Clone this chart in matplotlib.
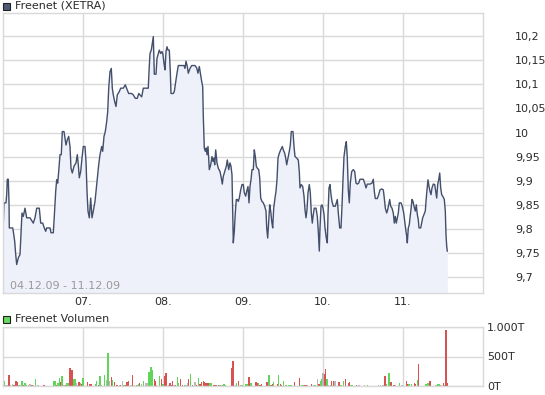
#!/usr/bin/env python3

import matplotlib
matplotlib.use('Agg')
import matplotlib.pyplot as plt
from matplotlib.patches import Rectangle

# Kurs (Intraday-Zeitindex, 80 Schritte je Handelstag)
price_t = [
    0, 0.5, 1, 3, 3.7, 4.3, 5.3, 6, 6.3, 9.7, 10.3, 11.7, 12.7, 13.7, 15.3, 17, 18, 19,
    20.3, 22, 23.7, 27, 30.3, 32, 33.7, 36.3, 37.7, 39.7, 41.3, 42.7, 43.7, 47, 48, 50.3,
    51.3, 52.7, 53.7, 54.7, 55.7, 57, 58.3, 59.3, 61, 62, 63, 64.3, 65.7, 67, 68, 69.3,
    71, 73, 74.3, 75.3, 76.3, 77.7, 79, 80.3, 82, 83, 84, 85, 86.3, 87.7, 89,
    90.3, 92, 93, 94.3, 95.7, 97, 98.7, 99.7, 101, 102.3, 103.7, 104.7, 105.7, 107, 108.3,
    109.3, 110.3, 111.7, 113, 114.3, 116.3, 117.7, 120.3, 122.3, 124.3, 125.7, 128.7, 130.3,
    132.3, 134.3, 135.7, 137, 138.7, 140.3, 145.3, 146, 147, 148.3, 149.3, 150.3, 151.3,
    153, 154, 155.3, 156.3, 157.7, 159, 160, 161, 162, 163, 164, 165, 166.3, 167.3, 168,
    170.3, 171.3, 172.3, 173.7, 175.3, 178.7,
    181, 182, 183, 184.3, 185.3, 187, 188.7, 192, 193.7, 195, 196.3, 197.7, 198.7, 199.7,
    200.3, 201.3, 202.3, 203.3, 204, 205, 206.3, 207.7, 209, 210, 211, 211.7, 212.7, 214,
    215.3, 217, 218.3, 219.3, 220.3, 221.7, 223.3, 224.3, 225.7, 227, 228, 229, 229.7,
    230.3, 231.3, 232.3, 233.3, 234.3, 235.3, 236.3, 237.7, 239, 240.3, 241.3, 242.7,
    243.7, 245, 246, 247, 248, 249, 250.3, 251.3, 252.3, 253.3, 254.3, 255.7, 256.7,
    257.7, 259, 260.3, 261.7, 263, 263.7, 264.7, 265.7, 266.7, 267.7, 268.7, 269.7,
    270.7, 272,
    273, 274, 275, 276.3, 277.7, 279.3, 280.3, 281.7, 283, 283.7, 285, 286.3, 287.3, 288.3,
    290, 291, 292, 293.7, 295.3, 296.3, 297, 298.3, 299.7, 301, 302, 303, 304, 305, 306.3,
    307.3, 308.3, 309.3, 310.3, 311.3, 313, 314.3, 315.3, 316.3, 317, 318, 319, 320, 321,
    322, 323.3, 324.3, 325, 326, 327, 328, 329, 330.3, 332.3, 333.3, 334.3, 335.3, 336.7,
    338, 339, 340, 341, 342.3, 343.3, 344.3, 345.3, 346.3, 347.3, 348.7, 350.3, 351.7,
    353, 354.3, 355.7, 357, 359.7,
    360.3, 361.7, 363, 364.3, 367, 369, 370.3, 371.3, 372.3, 374.3, 375.7, 377, 378.7,
    380.3, 381.3, 382.3, 383.7, 384.7, 385.7, 386.7, 387.7, 389, 390.3, 391.3, 392.3,
    393.3, 394.3, 395.3, 396.3, 398, 399.3, 400.7, 401.7, 402.7, 403.7, 404.3, 405.3,
    406.3, 407, 408, 409, 410, 411, 412.3, 413.3, 414.3, 415.3, 416, 417.7, 418.7, 419.7,
    421, 422.3, 423, 424, 425, 426, 427, 428, 429, 430.3, 431.7, 432.7, 433.7, 434.7,
    435.7, 436.7, 437.7, 438.7, 439.7, 440.7, 441.3, 442.3, 443, 443.7, 444.3,
]
price = [
    9.792, 9.823, 9.854, 9.854, 9.871, 9.903, 9.903, 9.854, 9.802, 9.802, 9.795, 9.774,
    9.747, 9.726, 9.74, 9.747, 9.792, 9.833, 9.826, 9.843, 9.823, 9.823, 9.812, 9.823,
    9.843, 9.843, 9.812, 9.812, 9.802, 9.795, 9.802, 9.802, 9.792, 9.792, 9.826, 9.878,
    9.902, 9.895, 9.919, 9.954, 9.954, 10.002, 10.002, 9.988, 9.974, 9.985, 9.992, 9.971,
    9.926, 9.916, 9.93, 9.937, 9.954, 9.933, 9.906, 9.919, 9.947, 9.971, 9.971, 9.94,
    9.878, 9.837, 9.823, 9.864, 9.823,
    9.837, 9.857, 9.878, 9.905, 9.933, 9.954, 9.971, 9.961, 9.992, 10.002, 10.023,
    10.043, 10.092, 10.126, 10.133, 10.092, 10.078, 10.064, 10.054, 10.078, 10.085,
    10.092, 10.092, 10.099, 10.088, 10.081, 10.081, 10.078, 10.071, 10.071, 10.081,
    10.078, 10.074, 10.092, 10.092, 10.126, 10.164, 10.171, 10.185, 10.199, 10.121,
    10.121, 10.154, 10.164, 10.171, 10.164, 10.168, 10.161, 10.143, 10.13, 10.168,
    10.178, 10.171, 10.171, 10.126, 10.081, 10.081, 10.085, 10.099, 10.119, 10.139,
    10.139,
    10.139, 10.133, 10.148, 10.137, 10.123, 10.133, 10.139, 10.139, 10.134, 10.123,
    10.137, 10.119, 10.106, 10.095, 10.033, 9.968, 9.961, 9.968, 9.954, 9.971, 9.923,
    9.933, 9.95, 9.94, 9.947, 9.933, 9.964, 9.937, 9.926, 9.919, 9.906, 9.893, 9.909,
    9.919, 9.93, 9.943, 9.923, 9.937, 9.93, 9.912, 9.84, 9.771, 9.795, 9.833, 9.861,
    9.861, 9.857, 9.864, 9.881, 9.892, 9.892, 9.875, 9.868, 9.878, 9.888, 9.854, 9.888,
    9.902, 9.923, 9.923, 9.964, 9.95, 9.93, 9.926, 9.923, 9.906, 9.864, 9.857, 9.854,
    9.847, 9.837, 9.802, 9.781, 9.816, 9.85, 9.837, 9.816, 9.802, 9.843, 9.864,
    9.878, 9.902, 9.947, 9.957, 9.964, 9.971, 9.964, 9.957, 9.943, 9.933, 9.947, 9.961,
    9.974, 10.002, 10.002, 9.971, 9.95, 9.947, 9.943, 9.919, 9.885, 9.892, 9.888, 9.868,
    9.84, 9.823, 9.84, 9.875, 9.892, 9.875, 9.833, 9.812, 9.83, 9.843, 9.843, 9.826,
    9.795, 9.754, 9.802, 9.847, 9.85, 9.843, 9.83, 9.802, 9.781, 9.771, 9.83, 9.885,
    9.892, 9.871, 9.857, 9.847, 9.847, 9.854, 9.861, 9.833, 9.802, 9.802, 9.847, 9.902,
    9.95, 9.971, 9.981, 9.947, 9.881, 9.854, 9.895, 9.919, 9.923, 9.919, 9.895, 9.893,
    9.895, 9.903, 9.903,
    9.903, 9.895, 9.885, 9.893, 9.893, 9.895, 9.903, 9.878, 9.863, 9.863, 9.871, 9.881,
    9.883, 9.881, 9.864, 9.843, 9.833, 9.84, 9.85, 9.861, 9.847, 9.843, 9.833, 9.812,
    9.826, 9.812, 9.823, 9.833, 9.854, 9.854, 9.847, 9.833, 9.816, 9.799, 9.785, 9.771,
    9.802, 9.809, 9.823, 9.84, 9.861, 9.857, 9.847, 9.837, 9.85, 9.83, 9.819, 9.802,
    9.802, 9.812, 9.823, 9.83, 9.837, 9.857, 9.881, 9.902, 9.888, 9.878, 9.871, 9.885,
    9.893, 9.892, 9.878, 9.864, 9.892, 9.902, 9.916, 9.885, 9.871, 9.868, 9.864, 9.861,
    9.837, 9.788, 9.764, 9.754,
]

# Volumen in Tausend
vol_t = [
    0, 1, 3, 4.3, 6, 7.7, 9.3, 11, 13, 14, 15.7, 17, 19, 20.3, 22, 23.7, 25.7, 27, 29,
    30.3, 32.3, 34.3, 35.7, 40.3, 41.7, 51, 52.3, 53.7, 55, 56.3, 58, 59, 61, 62.7, 64,
    65.3, 67, 69, 71, 72.3, 73.7, 74.7, 76, 77.3, 78.7, 80, 84.3, 87, 88.3, 92.3, 93.7,
    95.7, 97, 98.7, 101.3, 103.3, 105, 106.7, 108.3, 109.7, 111.3, 113.3, 114.3, 116.3,
    117.7, 119.3, 121, 122.3, 124, 125.3, 128, 129.3, 131.3, 134, 135.3, 136.7, 138.3,
    140.3, 142.7, 144, 146, 148, 149.7, 151.3, 152.3, 153.7, 156.3, 158.3, 160, 161.3,
    163, 165.3, 167, 168.3, 169.7, 171, 172.7, 174.3, 175.7, 177.7, 179.7, 181.3, 183,
    184.3, 185.7, 187.7, 189.7, 192, 193.7, 195.7, 197, 198.7, 200.3, 201.7, 203, 205,
    207, 208.3, 210.3, 212, 213.7, 215.7, 217, 219, 221, 222.3, 229, 230, 232.3, 233.7,
    235.7, 237.7, 239,
    243, 244.7, 246, 248, 253, 254, 255.3, 257, 258.7, 264, 266, 268, 269.7, 270.7,
    274.7, 275.3, 277.3, 278.7, 280.3, 283, 285.3, 287, 288.3, 291.3, 296.3, 298.7, 300,
    302, 303.3, 304.7, 308.7, 310.3, 312, 314.7, 316, 317.3, 318.7, 320, 321.3, 322.7,
    324, 325.3, 327.3, 328.7, 330.3, 332, 336, 338, 340.3, 342.7, 345.3, 346.3, 348,
    349.3, 353.3, 356, 361.3, 364.7, 375.3, 377.3, 380, 382, 383.7, 386, 388, 391, 392.7,
    396.3, 399, 403.3, 404.3, 406, 408.7, 411.3, 412.7, 414.3, 415.3, 423, 425, 427, 433,
    434.7, 436, 438, 440.3, 441.3, 443, 444,
]
vol = [
    79, 79, 11, 11, 181, 23, 34, 23, 79, 62, 23, 11, 79, 23, 51, 23, 11, 28, 11,
    11, 113, 11, 11, 11, 11, 79, 79, 23, 51, 136, 68, 170, 11, 23, 51,
    51, 299, 266, 113, 113, 51, 23, 62, 51, 34, 130, 68, 34, 34, 34, 90,
    23, 170, 23, 186, 107, 559, 90, 147, 107, 62, 11, 11, 23,
    11, 85, 11, 11, 62, 79, 23, 186, 23, 11, 34, 45, 28,
    79, 51, 51, 232, 316, 277, 119, 79, 23, 170, 124, 34, 170,
    220, 23, 51, 23, 90, 23, 23, 147, 51, 119, 11, 23, 11,
    45, 119, 198, 23, 62, 23, 130, 34, 62, 79, 73, 51, 51,
    45, 45, 23, 23, 11, 23, 23, 11, 34, 23, 299, 424, 23, 51,
    79, 11, 23,
    34, 34, 147, 45, 68, 51, 45, 23, 34, 68, 181, 23, 34, 62,
    34, 181, 34, 23, 79, 11, 23, 23, 23, 62, 130, 23, 23,
    11, 23, 11, 40, 23, 23, 113, 40, 79, 113, 226, 209, 294,
    124, 23, 23, 79, 90, 79, 62, 23, 79, 113, 45, 62, 11,
    11, 23, 11, 11, 11, 11, 11, 11, 164, 34, 215, 62, 11, 11,
    45, 11, 79, 34, 34, 34, 51, 34, 96, 367, 34, 51, 79, 11,
    34, 34, 11, 45, 11, 944, 45,
]
# u = Plus, d = Minus, n = unveraendert
vol_dir = [
    'd', 'u', 'n', 'n', 'd', 'n', 'n', 'd', 'd', 'd', 'u', 'n', 'u', 'd', 'u', 'u', 'n', 'n', 'd',
    'n', 'u', 'n', 'n', 'd', 'd', 'u', 'u', 'd', 'u', 'u', 'd', 'u', 'n', 'd', 'u',
    'u', 'd', 'd', 'u', 'u', 'n', 'n', 'd', 'u', 'd', 'u', 'd', 'd', 'd', 'u', 'u',
    'd', 'u', 'n', 'u', 'n', 'u', 'n', 'd', 'u', 'd', 'd', 'd', 'n',
    'd', 'n', 'u', 'd', 'd', 'd', 'n', 'd', 'n', 'u', 'u', 'd', 'n',
    'u', 'n', 'n', 'u', 'u', 'u', 'd', 'd', 'n', 'u', 'd', 'u', 'd',
    'd', 'n', 'd', 'd', 'd', 'n', 'd', 'u', 'u', 'd', 'd', 'u', 'n',
    'n', 'd', 'u', 'd', 'n', 'd', 'u', 'd', 'd', 'd', 'd', 'd', 'd',
    'u', 'u', 'd', 'd', 'd', 'd', 'u', 'n', 'u', 'u', 'd', 'd', 'n', 'u',
    'd', 'n', 'u',
    'u', 'u', 'd', 'u', 'd', 'd', 'u', 'd', 'd', 'd', 'u', 'd', 'd', 'u',
    'd', 'u', 'd', 'd', 'u', 'u', 'u', 'u', 'u', 'd', 'd', 'u', 'u',
    'd', 'd', 'n', 'd', 'n', 'u', 'n', 'd', 'u', 'u', 'n', 'd', 'd',
    'u', 'n', 'u', 'd', 'd', 'n', 'd', 'u', 'u', 'd', 'd', 'd', 'u',
    'u', 'd', 'n', 'n', 'u', 'n', 'n', 'n', 'd', 'u', 'u', 'd', 'd', 'n',
    'u', 'n', 'd', 'd', 'u', 'u', 'd', 'd', 'u', 'd', 'u', 'u', 'd', 'n',
    'u', 'u', 'n', 'd', 'u', 'd', 'd',
]

day_ticks = [80, 160, 240, 320, 400]
day_labels = ['07.', '08.', '09.', '10.', '11.']
price_ticks = [9.7, 9.75, 9.8, 9.85, 9.9, 9.95, 10.0, 10.05, 10.1, 10.15, 10.2]
price_labels = ['9,7', '9,75', '9,8', '9,85', '9,9', '9,95', '10', '10,05', '10,1', '10,15', '10,2']
vol_ticks = [0, 500, 1000]
vol_labels = ['0T', '500T', '1.000T']

W, H = 545, 395
GRID = '#d9d9d9'
TXT = '#2b2b2b'
LINE = '#434f6b'
FILL = '#eef1fa'
DIR_COL = {'u': '#5fd65a', 'd': '#d95252', 'n': '#b8b8b8'}
FS = 8

plt.rcParams['font.family'] = ['DejaVu Sans']

fig = plt.figure(figsize=(W / 100, H / 100), dpi=100)


def px_axes(x0, y0, x1, y1):
    return fig.add_axes([x0 / W, 1 - y1 / H, (x1 - x0) / W, (y1 - y0) / H])


def style(ax):
    for s in ax.spines.values():
        s.set_color(GRID)
        s.set_linewidth(1)
    ax.grid(True, color=GRID, linewidth=1)
    ax.set_axisbelow(True)
    ax.tick_params(length=0, colors=TXT, labelsize=FS)


# Kurs
ax = px_axes(3, 13, 483, 293)
ymin, ymax = 9.667, 10.248
ax.fill_between(price_t, price, ymin, color=FILL, linewidth=0)
ax.plot(price_t, price, color=LINE, linewidth=1)
ax.set_xlim(0, 480)
ax.set_ylim(ymin, ymax)
ax.set_xticks(day_ticks)
ax.set_xticklabels(day_labels)
ax.set_yticks(price_ticks)
ax.set_yticklabels(price_labels)
ax.yaxis.tick_right()
style(ax)
ax.tick_params(axis='y', pad=23)
ax.tick_params(axis='x', pad=3)
ax.text(7 / 480, 7 / 280, '04.12.09 - 11.12.09', transform=ax.transAxes,
        color='#9a9a9a', fontsize=FS, va='center', ha='left')

# Volumen
av = px_axes(3, 327, 483, 386)
cols = [DIR_COL[d] for d in vol_dir]
av.bar(vol_t, vol, width=1.4, color=cols, linewidth=0)
av.set_xlim(0, 480)
av.set_ylim(0, 1000)
av.set_xticks(day_ticks)
av.set_xticklabels([])
av.set_yticks(vol_ticks)
av.set_yticklabels(vol_labels)
av.yaxis.tick_right()
style(av)
av.tick_params(axis='y', pad=3)

# Legendenkaestchen und Titel
fig.add_artist(Rectangle((3 / W, 1 - 10 / H), 7 / W, 7 / H, transform=fig.transFigure,
                         facecolor='#4e5a78', edgecolor='#222222', linewidth=0.8))
fig.text(15 / W, 1 - 6 / H, 'Freenet (XETRA)', color=TXT, fontsize=FS, va='center')
fig.add_artist(Rectangle((3 / W, 1 - 323 / H), 7 / W, 7 / H, transform=fig.transFigure,
                         facecolor='#66d95e', edgecolor='#222222', linewidth=0.8))
fig.text(15 / W, 1 - 319.5 / H, 'Freenet Volumen', color=TXT, fontsize=FS, va='center')

fig.savefig('out.png', dpi=100)
